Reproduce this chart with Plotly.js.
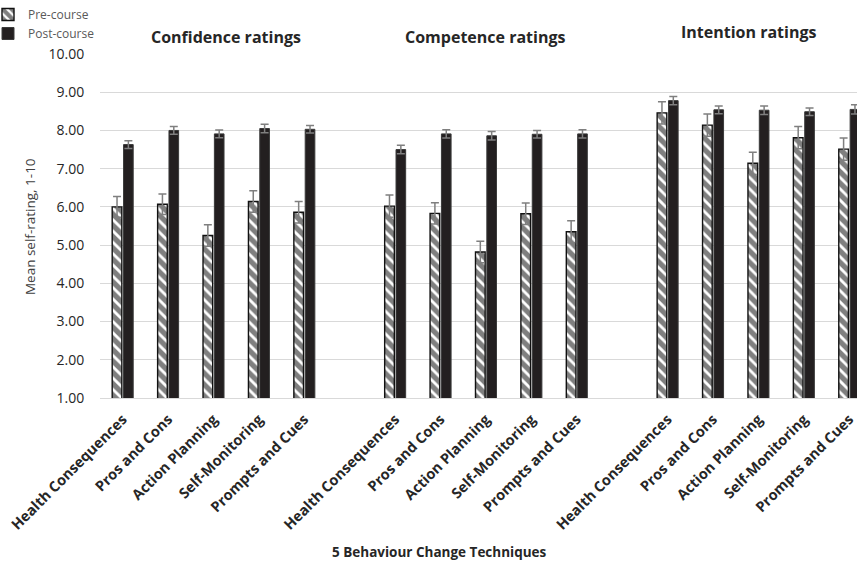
<!DOCTYPE html>
<html>
<head>
<meta charset="utf-8">
<script src="https://cdn.plot.ly/plotly-3.0.1.min.js"></script>
<style>html,body{margin:0;padding:0;background:#fff}#chart{width:857px;height:564px}</style>
</head>
<body>
<div id="chart"></div>
<script>
var groups = ["Confidence ratings", "Competence ratings", "Intention ratings"];
var techniques = ["Health Consequences", "Pros and Cons", "Action Planning", "Self-Monitoring", "Prompts and Cues"];

var preConfidence = [6.00, 6.07, 5.25, 6.14, 5.86];
var preCompetence = [6.02, 5.83, 4.82, 5.82, 5.35];
var preIntention  = [8.46, 8.14, 7.14, 7.81, 7.51];
var postConfidence = [7.63, 8.00, 7.91, 8.05, 8.03];
var postCompetence = [7.50, 7.91, 7.86, 7.90, 7.91];
var postIntention  = [8.78, 8.54, 8.53, 8.49, 8.55];

var preErrConfidence = [0.27, 0.27, 0.28, 0.28, 0.28];
var preErrCompetence = [0.29, 0.28, 0.28, 0.28, 0.29];
var preErrIntention  = [0.29, 0.29, 0.29, 0.29, 0.29];
var postErrConfidence = [0.10, 0.10, 0.10, 0.11, 0.10];
var postErrCompetence = [0.11, 0.11, 0.11, 0.10, 0.11];
var postErrIntention  = [0.11, 0.10, 0.11, 0.10, 0.12];

var yTickVals = [1,2,3,4,5,6,7,8,9,10];

// build slot positions: 5 techniques per group, one empty slot between groups
var xs = [], labels = [];
groups.forEach(function(g, gi){
  techniques.forEach(function(t, ti){ xs.push(gi*(techniques.length+1)+ti); labels.push(t); });
});
var pre = preConfidence.concat(preCompetence, preIntention);
var post = postConfidence.concat(postCompetence, postIntention);
var preErr = preErrConfidence.concat(preErrCompetence, preErrIntention);
var postErr = postErrConfidence.concat(postErrCompetence, postErrIntention);

var FONT = "Open Sans, sans-serif";

var traces = [
  {type:'bar', name:'Pre-course', x:xs, y:pre,
   marker:{color:'white', line:{color:'#111111', width:1.4},
           pattern:{shape:'\\', fgcolor:'#000000', bgcolor:'#ffffff', size:8, solidity:0.65, fillmode:'overlay'}},
   error_y:{type:'data', array:preErr, visible:true, color:'#7f7f7f', thickness:1.5, width:4}},
  {type:'bar', name:'Post-course', x:xs, y:post,
   marker:{color:'#231f20', line:{color:'#3a3a3a', width:1}},
   error_y:{type:'data', array:postErr, visible:true, color:'#7f7f7f', thickness:1.5, width:4}}
];

var plotL = 99, plotT = 54, plotW = 758, plotH = 344;
function px(x){ return (x-plotL)/plotW; }
function py(y){ return (plotT+plotH-y)/plotH; }

var annotations = groups.map(function(g, gi){
  var cx = [225, 485, 748][gi];
  var cy = [37, 37, 32][gi];
  return {text:'<b>'+g+'</b>', xref:'paper', yref:'paper', x:px(cx), y:py(cy), xanchor:'center', yanchor:'middle',
          showarrow:false, font:{family:FONT, size:16, color:'#262626'}};
});
annotations.push({text:'<b>5 Behaviour Change Techniques</b>', xref:'paper', yref:'paper', x:px(439), y:py(552),
  xanchor:'center', yanchor:'middle', showarrow:false, font:{family:FONT, size:13.5, color:'#262626'}});
annotations.push({text:'Mean self-rating, 1-10', xref:'paper', yref:'paper', x:px(29), y:py(227),
  xanchor:'center', yanchor:'middle', textangle:-90, showarrow:false, font:{family:FONT, size:13.5, color:'#404040'}});

var layout = {
  width:857, height:564,
  margin:{l:plotL, r:0, t:plotT, b:564-plotT-plotH, pad:0},
  paper_bgcolor:'#ffffff', plot_bgcolor:'#ffffff',
  font:{family:FONT, color:'#262626'},
  barmode:'group', bargap:0.5, bargroupgap:0.15,
  showlegend:true,
  legend:{xref:'container', yref:'container', x:0, y:1, xanchor:'left', yanchor:'top', indentation:-12,
          font:{family:FONT, size:12, color:'#595959'}, tracegroupgap:0, itemwidth:30, bgcolor:'rgba(0,0,0,0)'},
  xaxis:{range:[-0.5, 16.17], tickmode:'array', tickvals:xs, ticktext:labels.map(function(l){return '<b>'+l+'</b>';}),
         tickangle:-45, tickfont:{family:FONT, size:14.5, color:'#262626'}, automargin:false,
         ticklabeloverflow:'allow', ticklabelstandoff:6,
         showgrid:false, zeroline:false, showline:true, linecolor:'#d9d9d9', linewidth:1.2, ticks:''},
  yaxis:{range:[1,10], tickmode:'array', tickvals:yTickVals, tickformat:'.2f', automargin:false,
         tickfont:{family:FONT, size:14, color:'#262626'},
         showgrid:true, gridcolor:'#d9d9d9', gridwidth:1.2, zeroline:false, showline:false,
         ticks:'outside', ticklen:12, tickcolor:'rgba(0,0,0,0)'},
  annotations:annotations
};

Plotly.newPlot('chart', traces, layout, {displayModeBar:false, staticPlot:true});
</script>
</body>
</html>
